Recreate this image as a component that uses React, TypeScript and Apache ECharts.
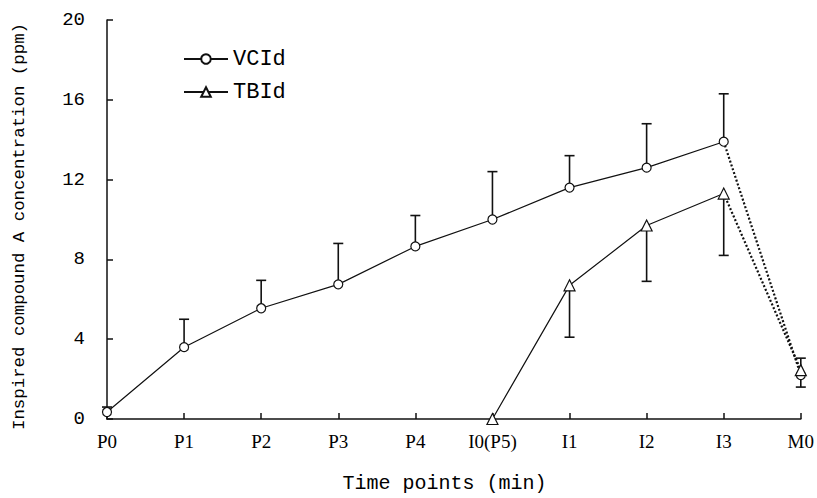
import React, { useEffect, useRef } from "react";
import * as echarts from "echarts";

const categories = ["P0", "P1", "P2", "P3", "P4", "I0(P5)", "I1", "I2", "I3", "M0"];
const yTicks = [0, 4, 8, 12, 16, 20];

// VCId means (solid part P0..I3), dotted drop I3 -> M0
const vcidMean = [0.35, 3.6, 5.55, 6.75, 8.65, 10.0, 11.6, 12.6, 13.9, null];
const vcidDrop = [null, null, null, null, null, null, null, null, 13.9, 2.2];
const vcidUpper = [0.6, 5.0, 6.95, 8.8, 10.2, 12.4, 13.2, 14.8, 16.3, 3.05];

// TBId means
const tbidMean = [null, null, null, null, null, 0, 6.7, 9.7, 11.3, null];
const tbidDrop = [null, null, null, null, null, null, null, null, 11.3, 2.45];
const tbidLower = [null, null, null, null, null, null, 4.1, 6.9, 8.2, 1.6];

const INK = "#111";
const MONO = "'Liberation Mono', 'DejaVu Sans Mono', monospace";
const SERIF = "'Liberation Serif', 'DejaVu Serif', serif";

export default function App() {
  const ref = useRef<HTMLDivElement>(null);
  useEffect(() => {
    if (!ref.current) return;
    const chart = echarts.init(ref.current, undefined, { renderer: "svg" });

    const vcidErr: any[] = [];
    vcidUpper.forEach((u, i) => {
      const m = i === 9 ? vcidDrop[9] : vcidMean[i];
      if (u != null && m != null) vcidErr.push([i, m, u]);
    });
    const tbidErr: any[] = [];
    tbidLower.forEach((l, i) => {
      const m = i === 9 ? tbidDrop[9] : tbidMean[i];
      if (l != null && m != null) tbidErr.push([i, m, l]);
    });

    const errRender = (params: any, api: any) => {
      const x = api.value(0);
      const a = api.coord([x, api.value(1)]);
      const b = api.coord([x, api.value(2)]);
      const hw = 5;
      const style = { stroke: INK, lineWidth: 1.6 };
      return {
        type: "group",
        children: [
          { type: "line", shape: { x1: a[0], y1: a[1], x2: b[0], y2: b[1] }, style },
          { type: "line", shape: { x1: b[0] - hw, y1: b[1], x2: b[0] + hw, y2: b[1] }, style },
        ],
      };
    };

    chart.setOption({
      animation: false,
      backgroundColor: "#fff",
      grid: { left: 107, right: 15, top: 20, bottom: 79 },
      legend: {
        data: ["VCId", "TBId"],
        orient: "vertical",
        left: 178,
        top: 43,
        itemWidth: 44,
        itemHeight: 12,
        itemGap: 11,
        textStyle: { fontFamily: MONO, fontSize: 22, color: "#000", lineHeight: 22 },
      },
      xAxis: {
        type: "category",
        data: categories,
        boundaryGap: false,
        name: "Time points (min)",
        nameLocation: "middle",
        nameGap: 54,
        nameTextStyle: { fontFamily: MONO, fontSize: 20, color: "#000", padding: [0, 19, 0, 0] },
        axisLine: { lineStyle: { color: INK, width: 1.5 } },
        axisTick: { inside: true, length: 6, lineStyle: { color: INK, width: 1.5 } },
        axisLabel: { fontFamily: SERIF, fontSize: 19, color: "#000", margin: 13 },
        splitLine: { show: false },
      },
      yAxis: {
        type: "value",
        min: yTicks[0],
        max: yTicks[yTicks.length - 1],
        interval: 4,
        name: "Inspired compound A concentration (ppm)",
        nameLocation: "middle",
        nameGap: 79,
        nameTextStyle: { fontFamily: MONO, fontSize: 17.4, color: "#000", padding: [0, 14, 0, 0] },
        axisLine: { show: true, lineStyle: { color: INK, width: 1.5 } },
        axisTick: { show: true, inside: true, length: 6, lineStyle: { color: INK, width: 1.5 } },
        axisLabel: { fontFamily: MONO, fontSize: 19, color: "#000", margin: 22 },
        splitLine: { show: false },
      },
      series: [
        {
          name: "VCId",
          type: "line",
          data: vcidMean,
          symbol: "circle",
          symbolSize: 9,
          itemStyle: { color: "#fff", borderColor: INK, borderWidth: 1.2 },
          lineStyle: { color: INK, width: 1.2 },
          z: 3,
        },
        {
          name: "TBId",
          type: "line",
          data: tbidMean,
          symbol: "triangle",
          symbolSize: 11,
          itemStyle: { color: "#fff", borderColor: INK, borderWidth: 1.2 },
          lineStyle: { color: INK, width: 1.2 },
          z: 3,
        },
        {
          name: "VCId drop",
          type: "line",
          data: vcidDrop,
          symbol: "none",
          lineStyle: { color: INK, width: 2.2, type: [2, 2] },
          z: 2,
        },
        {
          name: "TBId drop",
          type: "line",
          data: tbidDrop,
          symbol: "none",
          lineStyle: { color: INK, width: 2.2, type: [2, 2] },
          z: 2,
        },
        {
          name: "VCId M0",
          type: "line",
          data: [null, null, null, null, null, null, null, null, null, vcidDrop[9]],
          symbol: "circle",
          symbolSize: 9,
          itemStyle: { color: "#fff", borderColor: INK, borderWidth: 1.2 },
          z: 4,
        },
        {
          name: "TBId M0",
          type: "line",
          data: [null, null, null, null, null, null, null, null, null, tbidDrop[9]],
          symbol: "triangle",
          symbolSize: 11,
          itemStyle: { color: "#fff", borderColor: INK, borderWidth: 1.2 },
          z: 4,
        },
        {
          name: "VCId err",
          type: "custom",
          data: vcidErr,
          renderItem: errRender,
          encode: { x: 0, y: [1, 2] },
          z: 1,
        },
        {
          name: "TBId err",
          type: "custom",
          data: tbidErr,
          renderItem: errRender,
          encode: { x: 0, y: [1, 2] },
          z: 1,
        },
      ],
    });
    return () => chart.dispose();
  }, []);
  return (
    <div
      ref={ref}
      style={{ position: "fixed", left: 0, top: 0, width: 817, height: 498, background: "#fff" }}
    />
  );
}
